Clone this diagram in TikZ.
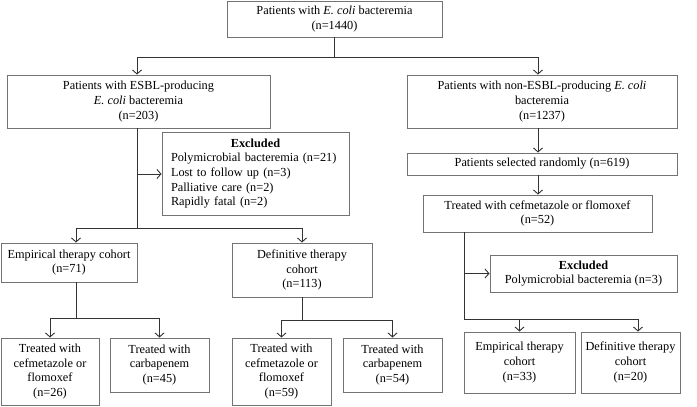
\documentclass[tikz,border=0pt]{standalone}
\usepackage{fontspec}
\setmainfont{Liberation Serif}
\usetikzlibrary{arrows.meta}

\tikzset{every picture/.style={line width=0.75pt}}
\tikzset{
  flowbox/.style={draw=black!55, line width=0.9pt, align=center, inner sep=0pt,
    font=\fontsize{12.3}{14.6}\selectfont},
  link/.style={draw=black!80, line width=0.9pt},
  linkarrow/.style={link, -{Straight Barb[length=4pt,width=9pt]}}
}

\begin{document}
\begin{tikzpicture}[x=1pt,y=1pt,yscale=-1,xscale=1]
\useasboundingbox (0,0) rectangle (697,407);
% Text Node
\node[flowbox, minimum width=215, minimum height=36] (all) at (334.5,19) {Patients with \textit{E. coli} bacteremia\\(n=1440)};
% Text Node
\node[flowbox, minimum width=263, minimum height=53] (esbl) at (138.5,101.5) {Patients with ESBL-producing\\\textit{E. coli} bacteremia\\(n=203)};
% Text Node
\node[flowbox, minimum width=270, minimum height=53] (nonesbl) at (542,101.5) {Patients with non-ESBL-producing \textit{E. coli}\\bacteremia\\(n=1237)};
% Text Node
\node[flowbox, align=left, text width=169, inner xsep=9, minimum height=83] (exclesbl) at (255.5,173.5) {\makebox[\linewidth]{\textbf{Excluded}}\\Polymicrobial bacteremia (n=21)\\Lost to follow up (n=3)\\Palliative care (n=2)\\Rapidly fatal (n=2)};
% Text Node
\node[flowbox, minimum width=270, minimum height=22] (random) at (542,164) {Patients selected randomly (n=619)};
% Text Node
\node[flowbox, minimum width=229, minimum height=37] (cefnon) at (537.5,213.5) {Treated with cefmetazole or flomoxef\\(n=52)};
% Text Node
\node[flowbox, minimum width=187, minimum height=37] (exclnon) at (583.5,273.5) {\textbf{Excluded}\\Polymicrobial bacteremia (n=3)};
% Text Node
\node[flowbox, minimum width=136, minimum height=39] (empesbl) at (69,262.5) {Empirical therapy cohort\\(n=71)};
% Text Node
\node[flowbox, minimum width=140, minimum height=54] (defesbl) at (302,270) {Definitive therapy\\cohort\\(n=113)};
% Text Node
\node[flowbox, minimum width=98, minimum height=67] (empcef) at (50,371.5) {Treated with\\cefmetazole or\\flomoxef\\(n=26)};
% Text Node
\node[flowbox, minimum width=99, minimum height=54] (empcarb) at (159.5,365) {Treated with\\carbapenem\\(n=45)};
% Text Node
\node[flowbox, minimum width=99, minimum height=67] (defcef) at (281.5,371.5) {Treated with\\cefmetazole or\\flomoxef\\(n=59)};
% Text Node
\node[flowbox, minimum width=99, minimum height=54] (defcarb) at (392.5,365) {Treated with\\carbapenem\\(n=54)};
% Text Node
\node[flowbox, minimum width=111, minimum height=61] (empnon) at (519.5,362.5) {Empirical therapy\\cohort\\(n=33)};
% Text Node
\node[flowbox, minimum width=99, minimum height=61] (defnon) at (630.5,362.5) {Definitive therapy\\cohort\\(n=20)};

% junctions
\coordinate (splitall) at (334.5,57);
\coordinate (splitesbl) at (137,228);
\coordinate (sideesbl) at (137,174);
\coordinate (splitemp) at (76,318);
\coordinate (splitdef) at (302,320);
\coordinate (colnon) at (538,101.5);
\coordinate (trunknon) at (464,319);
\coordinate (sidenon) at (464,273.5);
\coordinate (rightnon) at (638,319);

%Shape: Tree lines
\draw[link] (all.south) -- (splitall);
\draw[linkarrow] (splitall) -| (esbl.north -| sideesbl);
\draw[linkarrow] (splitall) -| (nonesbl.north -| colnon);
\draw[link] (esbl.south -| sideesbl) -- (splitesbl);
\draw[linkarrow] (sideesbl) -- (exclesbl.west |- sideesbl);
\draw[linkarrow] (splitesbl) -| (empesbl.north -| splitemp);
\draw[linkarrow] (splitesbl) -| (defesbl.north);
\draw[link] (empesbl.south -| splitemp) -- (splitemp);
\draw[linkarrow] (splitemp) -| (empcef.north);
\draw[linkarrow] (splitemp) -| (empcarb.north);
\draw[link] (defesbl.south) -- (splitdef);
\draw[linkarrow] (splitdef) -| (defcef.north);
\draw[linkarrow] (splitdef) -| (defcarb.north);
\draw[linkarrow] (nonesbl.south -| colnon) -- (random.north -| colnon);
\draw[linkarrow] (random.south -| colnon) -- (cefnon.north -| colnon);
\draw[link] (cefnon.south -| trunknon) -- (trunknon);
\draw[linkarrow] (sidenon) -- (exclnon.west);
\draw[link] (trunknon) -- (rightnon);
\draw[linkarrow] (trunknon) -| (empnon.north);
\draw[linkarrow] (rightnon) -- (defnon.north -| rightnon);
\end{tikzpicture}
\end{document}
